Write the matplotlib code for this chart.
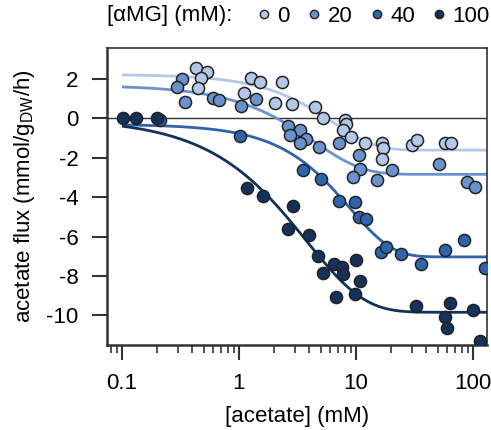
import numpy as np
import matplotlib
matplotlib.use("Agg")
import matplotlib.pyplot as plt
from matplotlib.lines import Line2D
from matplotlib.ticker import LogLocator, NullFormatter

plt.rcParams['font.family'] = ['Liberation Sans', 'DejaVu Sans']
plt.rcParams['axes.unicode_minus'] = False

# ---- data ----
amg_levels = ['0', '20', '40', '100']

acetate_0 = [0.432, 0.537, 0.477, 0.450, 1.26, 1.51, 1.10, 2.31, 2.02, 2.82, 4.50, 5.2,
             8.1, 8.18, 7.8, 9.0, 11.9, 16.6, 16.9, 16.8, 30.4, 33.0, 57.5, 65.6]
flux_0 = [2.57, 2.37, 2.03, 1.55, 2.06, 1.86, 1.30, 1.86, 0.77, 0.71, 0.57, 0.03,
          -0.07, -0.30, -0.59, -0.94, -1.24, -1.24, -1.52, -2.04, -1.33, -1.10, -1.24, -1.24]

acetate_20 = [0.324, 0.296, 0.343, 0.600, 0.675, 1.04, 1.41, 2.62, 3.31, 2.72, 3.75,
              3.31, 4.79, 7.2, 10.7, 10.9, 9.4, 15.0, 20.5, 51.8, 88.3, 104]
flux_20 = [1.98, 1.57, 0.84, 1.05, 0.93, 0.62, 0.96, -0.37, -0.59, -0.83, -1.05,
           -1.24, -1.46, -1.27, -1.84, -2.58, -3.00, -3.13, -2.64, -2.32, -3.24, -3.50]

acetate_40 = [0.211, 1.02, 3.55, 5.0, 7.2, 9.85, 10.6, 12.3, 16.4, 18.1, 24.3, 35.8,
              57.6, 83.3, 127]
flux_40 = [-0.07, -0.92, -2.60, -3.10, -4.19, -4.25, -4.99, -5.10, -6.76, -6.52, -6.89,
           -7.40, -6.68, -6.15, -7.60]

acetate_100 = [0.101, 0.132, 0.198, 1.18, 1.59, 2.92, 2.64, 3.97, 4.77, 6.45, 7.6, 5.28,
               7.8, 10.0, 10.8, 6.7, 9.9, 32.6, 64, 57.3, 60, 101, 115]
flux_100 = [0.0, 0.0, 0.0, -3.51, -3.94, -4.44, -5.59, -5.92, -6.99, -7.37, -7.54, -7.86,
            -7.91, -7.21, -8.23, -9.08, -8.92, -9.51, -9.38, -10.10, -10.65, -9.72, -11.30]

# fitted-curve parameters (top, bottom, K, shape)
curve_top = [2.23, 1.68, -0.30, 0.0]
curve_bottom = [-1.61, -2.84, -7.03, -9.84]
curve_K = [6.35, 4.38, 8.87, 3.78]
curve_shape = [1.2, 1.05, 1.2, 0.88]

xticks = [0.1, 1, 10, 100]
xticklabels = ['0.1', '1', '10', '100']
yticks = [2, 0, -2, -4, -6, -8, -10]

# ---- style ----
colors = ['#b4c7e7', '#6a92cf', '#2e64ab', '#143259']
edge = '#222222'
axis_col = '#333333'
FS = 16

W, H = 491, 430
fig = plt.figure(figsize=(W / 100, H / 100), dpi=100)
ax = fig.add_axes([107 / W, 1 - 345 / H, (487 - 107) / W, (345 - 48) / H])

ax.axhline(0, color=axis_col, lw=1.0, zorder=1)

xs = np.geomspace(0.1, 140, 400)
for i in range(4):
    frac = 1 - np.exp(-(xs / curve_K[i]) ** curve_shape[i])
    ys = curve_top[i] + (curve_bottom[i] - curve_top[i]) * frac
    ax.plot(xs, ys, color=colors[i], lw=2.0, zorder=2, solid_capstyle='butt')

series = [(acetate_0, flux_0), (acetate_20, flux_20), (acetate_40, flux_40), (acetate_100, flux_100)]
for i, (xa, ya) in enumerate(series):
    ax.scatter(xa, ya, s=76, facecolor=colors[i], edgecolor=edge, linewidth=1.1, zorder=3 + i)

ax.set_xscale('log')
ax.set_xlim(0.0744, 132)
ax.set_ylim(-11.5, 3.57)
ax.set_xticks(xticks)
ax.set_xticklabels(xticklabels)
ax.xaxis.set_minor_locator(LogLocator(base=10, subs=np.arange(2, 10)))
ax.xaxis.set_minor_formatter(NullFormatter())
ax.set_yticks(yticks)
ax.set_yticklabels([str(v) for v in yticks])

ax.tick_params(which='major', direction='out', length=10.5, width=1.5, color=axis_col,
               labelsize=FS)
ax.tick_params(axis='x', which='major', pad=9.5)
ax.tick_params(axis='y', which='major', pad=10)
ax.tick_params(which='minor', direction='out', length=5.5, width=1.2, color=axis_col)

for s in ['left', 'bottom']:
    ax.spines[s].set_linewidth(1.8)
    ax.spines[s].set_color(axis_col)
for s in ['top', 'right']:
    ax.spines[s].set_linewidth(1.2)
    ax.spines[s].set_color(axis_col)

ax.set_xlabel('[acetate] (mM)', fontsize=FS, labelpad=9)
ax.set_ylabel(r'acetate flux (mmol/g$_\mathregular{DW}$/h)', fontsize=FS, labelpad=7)

fig.text(107 / W, 1 - 16 / H, '[\u03b1MG] (mM):', fontsize=FS, va='center', ha='left')
handles = [Line2D([], [], ls='none', marker='o', markersize=6, markerfacecolor=c,
                  markeredgecolor=edge, markeredgewidth=1.0) for c in colors]
fig.legend(handles, amg_levels, loc='center right', bbox_to_anchor=(490 / W, 1 - 16 / H),
           ncol=4, frameon=False, fontsize=FS, handlelength=0.5, handletextpad=0.35,
           columnspacing=0.85, borderpad=0, borderaxespad=0)

fig.savefig('out.png', dpi=100)
